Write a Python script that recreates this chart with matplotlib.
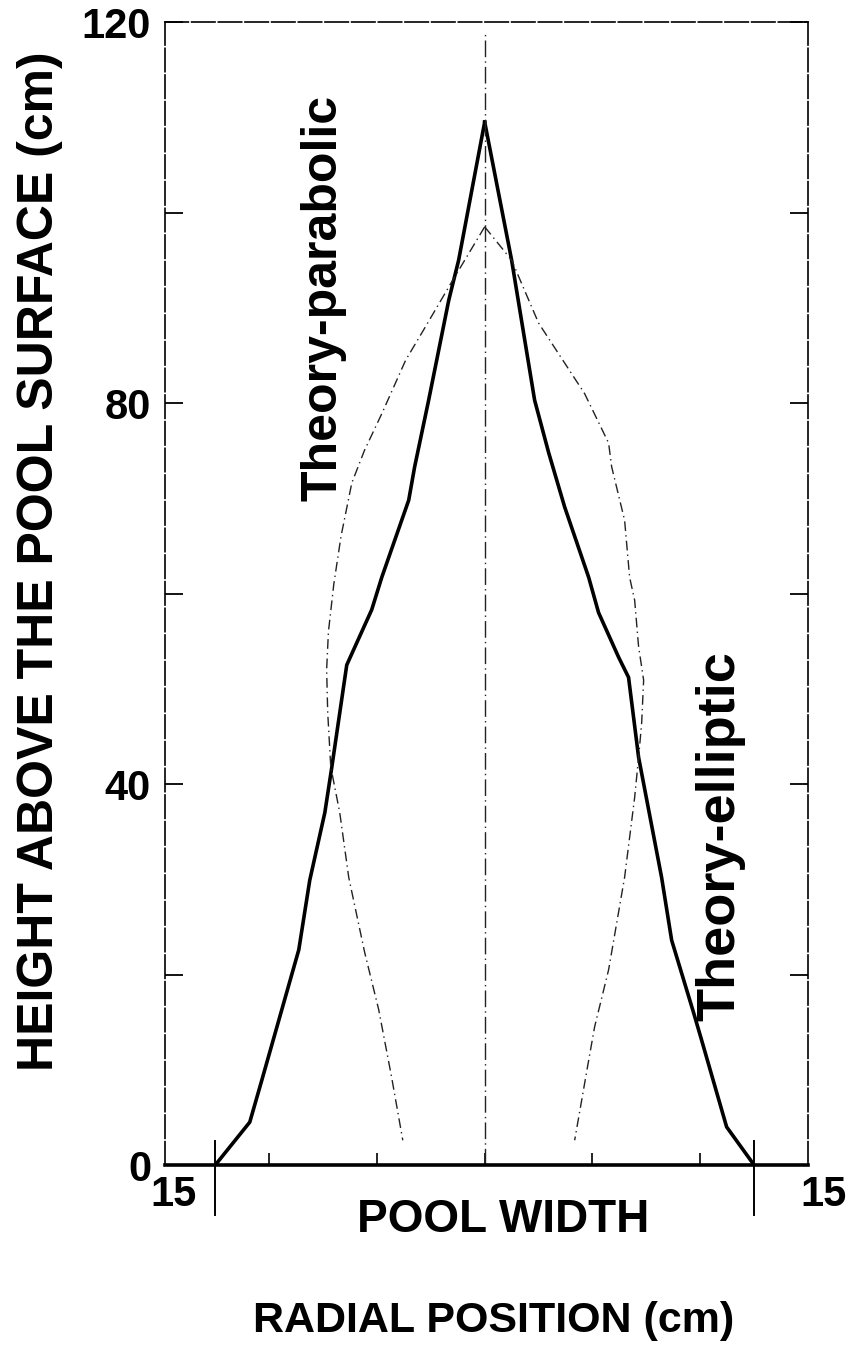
import matplotlib
matplotlib.use("Agg")
import matplotlib.pyplot as plt

# %% data (radial position in cm, height in cm)
measuredLeftX = [-15, -13.08, -12.41, -10.35, -9.74, -8.90, -8.51, -7.68, -6.29,
                 -5.73, -4.23, -3.90, -3.12, -2.00, -1.45, 0]
measuredLeftY = [0, 4.5, 8.9, 22.6, 29.9, 37.0, 41.8, 52.5, 58.3,
                 61.7, 69.8, 73.3, 80.3, 90.8, 95.0, 109.5]
measuredRightX = [0, 1.50, 2.78, 3.56, 4.45, 5.79, 6.34, 7.46, 8.01, 8.57,
                  9.85, 10.41, 11.63, 12.08, 13.47, 15]
measuredRightY = [109.5, 95.0, 80.3, 74.8, 69.1, 61.7, 58.0, 53.3, 51.2, 42.8,
                  30.2, 23.6, 16.0, 13.1, 4.0, 0]

parabolicX = [0, -1.84, -3.3, -4.4, -5.7, -6.7, -7.4, -8.0, -8.4, -8.7, -8.8,
              -8.74, -8.57, -8.07, -7.57, -6.68, -5.90, -5.18, -4.56]
parabolicY = [98.5, 92.7, 88.0, 84.5, 79.0, 75.0, 71.6, 66.0, 61.0, 56.0, 52.0,
              47.5, 41.8, 37.0, 30.2, 22.3, 16.3, 9.2, 2.6]

ellipticX = [0, 1.50, 3.0, 5.56, 6.90, 7.07, 7.79, 8.07, 8.35, 8.57, 8.74, 8.85,
             8.74, 8.57, 8.35, 7.79, 6.90, 6.12, 5.79, 5.01]
ellipticY = [98.5, 95.0, 88.4, 81.0, 75.8, 73.3, 67.7, 61.7, 59.3, 54.4, 52.3,
             50.9, 46.4, 42.8, 38.6, 30.2, 20.5, 14.5, 11.0, 2.6]

poolEdges = [-15, 15]
yMajor = [0, 40, 80, 120]
yMinor = [20, 60, 100]
xMinor = [-12, -6, 0, 6, 12]

# %% plot
plt.rcParams["font.family"] = ["Liberation Sans", "DejaVu Sans"]
fig = plt.figure(figsize=(8.54, 13.52), dpi=100)
ax = fig.add_axes([0.1932, 0.1383, 0.7529, 0.8454])

ax.plot(measuredLeftX, measuredLeftY, color="black", lw=2.6, solid_joinstyle="miter")
ax.plot(measuredRightX, measuredRightY, color="black", lw=2.6, solid_joinstyle="miter")
ax.plot(parabolicX, parabolicY, color="#222222", lw=1.0, ls=(0, (7, 3, 1, 3)))
ax.plot(ellipticX, ellipticY, color="#222222", lw=1.0, ls=(0, (7, 3, 1, 3)))
ax.plot([0, 0], [0, 119], color="#222222", lw=1.0, ls=(0, (12, 3, 1, 3)))

# pool edge markers crossing the base line
for xe in poolEdges:
    ax.plot([xe, xe], [-5.2, 2.5], color="black", lw=1.4, clip_on=False)

ax.set_xlim(-17.8, 18.0)
ax.set_ylim(0, 120)

ax.set_yticks(yMajor)
ax.set_yticks(yMinor, minor=True)
ax.set_yticklabels([str(v) for v in yMajor], fontsize=30, fontweight="bold")
ax.tick_params(axis="y", which="both", direction="in", length=13, width=1.3,
               right=True, pad=10)
ax.set_xticks(xMinor)
ax.set_xticklabels([])
ax.tick_params(axis="x", which="both", direction="in", length=9, width=1.2)

for side in ["left", "right", "top"]:
    ax.spines[side].set_linewidth(1.2)
    ax.spines[side].set_linestyle((0, (14, 2)))
ax.spines["bottom"].set_linewidth(2.6)

# curve labels
ax.text(-9.0, 91.0, "Theory-parabolic", rotation=90, ha="center", va="center",
        fontsize=36, fontweight="bold")
ax.text(13.1, 34.5, "Theory-elliptic", rotation=90, ha="center", va="center",
        fontsize=39, fontweight="bold")

# axis annotations
fig.text(174 / 854, 1 - 1195 / 1352, "15", ha="center", va="center",
         fontsize=30, fontweight="bold")
fig.text(824 / 854, 1 - 1195 / 1352, "15", ha="center", va="center",
         fontsize=30, fontweight="bold")
fig.text(503 / 854, 1 - 1220 / 1352, "POOL WIDTH", ha="center", va="center",
         fontsize=33, fontweight="bold")
fig.text(494 / 854, 1 - 1321 / 1352, "RADIAL POSITION (cm)", ha="center",
         va="center", fontsize=31, fontweight="bold")
fig.text(40 / 854, 1 - 561 / 1352, "HEIGHT ABOVE THE POOL SURFACE (cm)",
         rotation=90, ha="center", va="center", fontsize=36, fontweight="bold")

fig.savefig("out.png", dpi=100)
